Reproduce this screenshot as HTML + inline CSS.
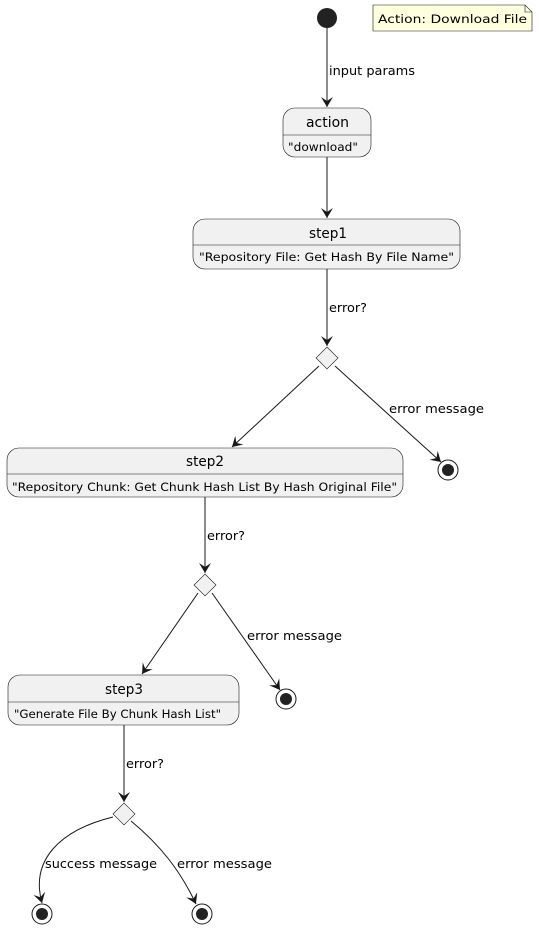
<!DOCTYPE html>
<html><head><style>
html,body{margin:0;padding:0;background:#fff}
svg{display:block;font-family:"DejaVu Sans","Liberation Sans",sans-serif}
.t{font-size:14px;fill:#000}
.s{font-size:11.5px;fill:#000}
.l{font-size:12.5px;fill:#000}
</style></head><body>
<svg width="539" height="930" viewBox="0 0 539 930">
<defs>
<marker id="a" markerWidth="12" markerHeight="12" refX="10" refY="6" orient="auto" markerUnits="userSpaceOnUse">
<path d="M0,0 L10,6 L0,12 L4,6 Z" fill="#181818"/>
</marker>
</defs>
<g stroke="#181818" stroke-width="1" fill="none">
<path d="M373,5 L525,5 L532,12 L532,31 L373,31 Z" fill="#FEFFDD" stroke="#181818" stroke-width="0.6"/>
<path d="M525,5 L525,12 L532,12" stroke-width="0.6"/>
<circle cx="327" cy="18" r="10" fill="#222" stroke="none"/>
<line x1="327" y1="28" x2="327" y2="107" marker-end="url(#a)"/>
<rect x="283" y="108" width="88" height="49" rx="12" fill="#F1F1F1" stroke-width="0.6"/>
<line x1="283" y1="135" x2="371" y2="135" stroke-width="0.6"/>
<line x1="327" y1="157" x2="327" y2="218" marker-end="url(#a)"/>
<rect x="193" y="219" width="267" height="50" rx="12" fill="#F1F1F1" stroke-width="0.6"/>
<line x1="193" y1="245" x2="460" y2="245" stroke-width="0.6"/>
<line x1="327" y1="269" x2="327" y2="346" marker-end="url(#a)"/>
<path d="M327,347 L338,358 L327,369 L316,358 Z" fill="#F1F1F1" stroke-width="0.6"/>
<line x1="319" y1="366" x2="232" y2="447" marker-end="url(#a)"/>
<line x1="335" y1="366" x2="441" y2="462" marker-end="url(#a)"/>
<circle cx="448" cy="470" r="10" fill="#fff"/>
<circle cx="448" cy="470" r="6" fill="#222" stroke="none"/>
<rect x="7" y="448" width="396" height="49" rx="12" fill="#F1F1F1" stroke-width="0.6"/>
<line x1="7" y1="474" x2="403" y2="474" stroke-width="0.6"/>
<line x1="205" y1="497" x2="205" y2="573" marker-end="url(#a)"/>
<path d="M205,574 L216,585 L205,596 L194,585 Z" fill="#F1F1F1" stroke-width="0.6"/>
<line x1="198" y1="593" x2="142" y2="674" marker-end="url(#a)"/>
<line x1="212" y1="593" x2="280" y2="690" marker-end="url(#a)"/>
<circle cx="286" cy="699" r="10" fill="#fff"/>
<circle cx="286" cy="699" r="6" fill="#222" stroke="none"/>
<rect x="8" y="675" width="231" height="50" rx="12" fill="#F1F1F1" stroke-width="0.6"/>
<line x1="8" y1="702" x2="239" y2="702" stroke-width="0.6"/>
<line x1="124" y1="725" x2="124" y2="802" marker-end="url(#a)"/>
<path d="M124,803 L135,814 L124,825 L113,814 Z" fill="#F1F1F1" stroke-width="0.6"/>
<path d="M113,817 C60,830 30,860 42,903" marker-end="url(#a)"/>
<path d="M131,821 C160,845 180,870 196,904" marker-end="url(#a)"/>
<circle cx="42" cy="914" r="10" fill="#fff"/>
<circle cx="42" cy="914" r="6" fill="#222" stroke="none"/>
<circle cx="202" cy="914" r="10" fill="#fff"/>
<circle cx="202" cy="914" r="6" fill="#222" stroke="none"/>
</g>
<text class="s" x="378" y="23" textLength="149" lengthAdjust="spacingAndGlyphs">Action: Download File</text>
<text class="l" x="329" y="75" textLength="86" lengthAdjust="spacingAndGlyphs">input params</text>
<text class="t" x="306" y="127" textLength="43" lengthAdjust="spacingAndGlyphs">action</text>
<text class="s" x="288" y="151" textLength="70" lengthAdjust="spacingAndGlyphs">"download"</text>
<text class="t" x="309" y="238" textLength="38" lengthAdjust="spacingAndGlyphs">step1</text>
<text class="s" x="199" y="261" textLength="255" lengthAdjust="spacingAndGlyphs">"Repository File: Get Hash By File Name"</text>
<text class="l" x="329" y="312" textLength="38" lengthAdjust="spacingAndGlyphs">error?</text>
<text class="l" x="389" y="413" textLength="95" lengthAdjust="spacingAndGlyphs">error message</text>
<text class="t" x="186" y="466" textLength="38" lengthAdjust="spacingAndGlyphs">step2</text>
<text class="s" x="12" y="491" textLength="385" lengthAdjust="spacingAndGlyphs">"Repository Chunk: Get Chunk Hash List By Hash Original File"</text>
<text class="l" x="207" y="540" textLength="38" lengthAdjust="spacingAndGlyphs">error?</text>
<text class="l" x="247" y="640" textLength="95" lengthAdjust="spacingAndGlyphs">error message</text>
<text class="t" x="105" y="694" textLength="38" lengthAdjust="spacingAndGlyphs">step3</text>
<text class="s" x="14" y="718" textLength="207" lengthAdjust="spacingAndGlyphs">"Generate File By Chunk Hash List"</text>
<text class="l" x="126" y="768" textLength="38" lengthAdjust="spacingAndGlyphs">error?</text>
<text class="l" x="45" y="868" textLength="112" lengthAdjust="spacingAndGlyphs">success message</text>
<text class="l" x="177" y="868" textLength="95" lengthAdjust="spacingAndGlyphs">error message</text>
</svg>
</body></html>
